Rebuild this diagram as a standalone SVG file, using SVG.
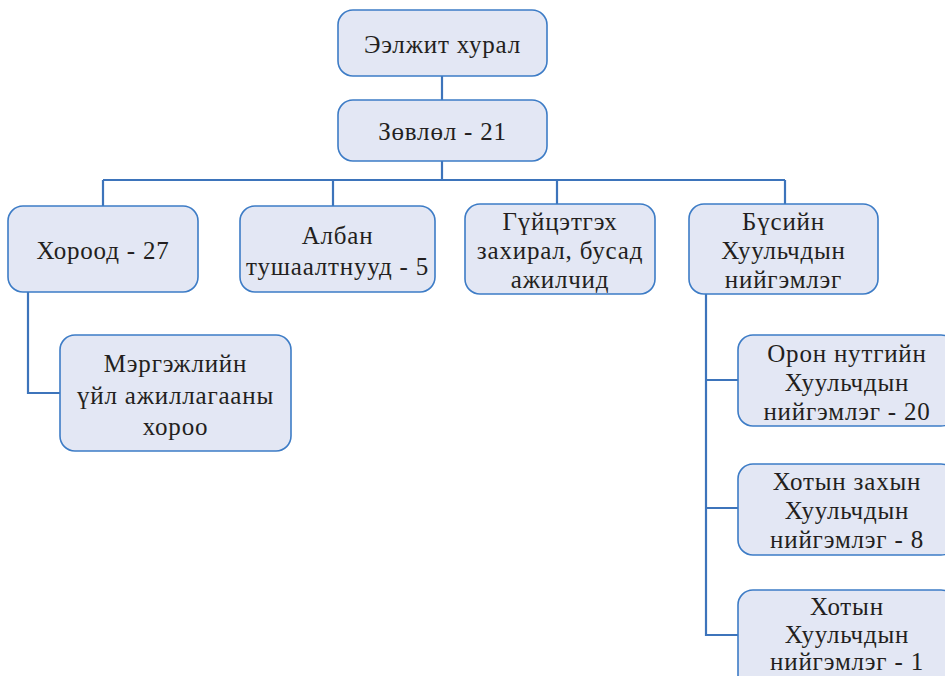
<svg xmlns="http://www.w3.org/2000/svg" width="945" height="676" viewBox="0 0 945 676">
<style>
.box{fill:#e3e7f4;stroke:#3d7cc6;stroke-width:1.6}
.lbl{font-family:'Liberation Serif',serif;font-size:25px;letter-spacing:0.8px;fill:#231f20;text-anchor:middle}
.wire{fill:none;stroke:#3d74bb;stroke-width:2.2}
</style>
<rect width="945" height="676" fill="#fff"/>
<g id="connectors">
<path class="wire" d="M442 76V100M442 161V180M103 180H785M103 180V206M333 180V206M557 180V204M785 180V204"/>
<path class="wire" d="M28 292V393H60"/>
<path class="wire" d="M706 294V635H738M706 380H738M706 508H738"/>
</g>
<g id="n1" font-family="Liberation Serif"><rect class="box" x="338" y="10" width="209" height="66" rx="15"/><text class="lbl" x="442.5" y="53">Ээлжит хурал</text></g>
<g id="n2" font-family="Liberation Serif"><rect class="box" x="338" y="100" width="209" height="61" rx="15"/><text class="lbl" x="442.5" y="140">Зөвлөл - 21</text></g>
<g id="n3" font-family="Liberation Serif"><rect class="box" x="8" y="206" width="190" height="86" rx="15"/><text class="lbl" x="103" y="259">Хороод - 27</text></g>
<g id="n4" font-family="Liberation Serif"><rect class="box" x="240" y="206" width="195" height="86" rx="15"/><text class="lbl" x="337.5" y="244">Албан</text><text class="lbl" x="337.5" y="275">тушаалтнууд - 5</text></g>
<g id="n5" font-family="Liberation Serif"><rect class="box" x="465" y="204" width="190" height="90" rx="15"/><text class="lbl" x="560" y="230">Гүйцэтгэх</text><text class="lbl" x="560" y="259">захирал, бусад</text><text class="lbl" x="560" y="288">ажилчид</text></g>
<g id="n6" font-family="Liberation Serif"><rect class="box" x="689" y="204" width="189" height="90" rx="15"/><text class="lbl" x="783.5" y="230">Бүсийн</text><text class="lbl" x="783.5" y="259">Хуульчдын</text><text class="lbl" x="783.5" y="288">нийгэмлэг</text></g>
<g id="n7" font-family="Liberation Serif"><rect class="box" x="60" y="335" width="231" height="116" rx="15"/><text class="lbl" x="175.5" y="372">Мэргэжлийн</text><text class="lbl" x="175.5" y="404">үйл ажиллагааны</text><text class="lbl" x="175.5" y="435">хороо</text></g>
<g id="n8" font-family="Liberation Serif"><rect class="box" x="738" y="335" width="218" height="91" rx="15"/><text class="lbl" x="847" y="362">Орон нутгийн</text><text class="lbl" x="847" y="391">Хуульчдын</text><text class="lbl" x="847" y="420">нийгэмлэг - 20</text></g>
<g id="n9" font-family="Liberation Serif"><rect class="box" x="738" y="464" width="218" height="91" rx="15"/><text class="lbl" x="847" y="490">Хотын захын</text><text class="lbl" x="847" y="519">Хуульчдын</text><text class="lbl" x="847" y="548">нийгэмлэг - 8</text></g>
<g id="n10" font-family="Liberation Serif"><rect class="box" x="738" y="590" width="218" height="110" rx="15"/><text class="lbl" x="847" y="615">Хотын</text><text class="lbl" x="847" y="643">Хуульчдын</text><text class="lbl" x="847" y="670">нийгэмлэг - 1</text></g>
</svg>
